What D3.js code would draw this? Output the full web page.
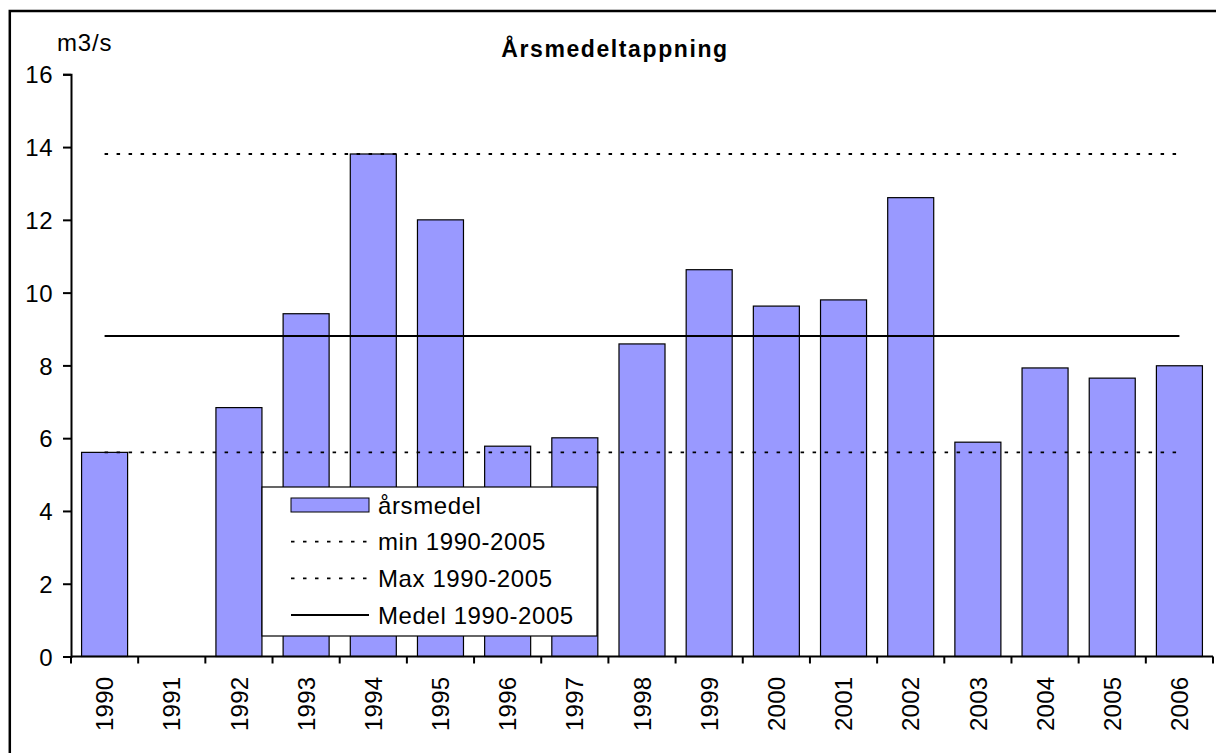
<!DOCTYPE html>
<html>
<head>
<meta charset="utf-8">
<script src="https://cdn.jsdelivr.net/npm/d3@7"></script>
<style>
  body { margin: 0; background: #fff; }
  svg { display: block; font-family: Arial, "Liberation Sans", sans-serif; }
</style>
</head>
<body>
<svg id="chart" width="1216" height="753"></svg>
<script>
// Data
const years = ["1990", "1991", "1992", "1993", "1994", "1995", "1996", "1997", "1998",
  "1999", "2000", "2001", "2002", "2003", "2004", "2005", "2006"];
const arsmedel = [5.61, null, 6.84, 9.42, 13.81, 12.0, 5.78, 6.01, 8.59,
  10.63, 9.63, 9.8, 12.61, 5.89, 7.93, 7.65, 7.99];
const minValue = 5.61;
const maxValue = 13.81;
const medelValue = 8.81;
const yTicks = [0, 2, 4, 6, 8, 10, 12, 14, 16];
const legendLabels = ["årsmedel", "min 1990-2005", "Max 1990-2005", "Medel 1990-2005"];

const dimensions = {
  width: 1216,
  height: 753,
  margin: { top: 74.3, right: 3, bottom: 96, left: 71 },
};
dimensions.boundedWidth = 1142;
dimensions.boundedHeight = 582.2;

const fontSize = "24px";
const svg = d3.select("#chart");

// outer chart frame (cut off at right/bottom like the reference)
svg.append("rect")
  .attr("x", 9.8)
  .attr("y", 11)
  .attr("width", 1300)
  .attr("height", 900)
  .attr("fill", "none")
  .attr("stroke", "#000")
  .attr("stroke-width", 2.5);

const bound = svg.append("g")
  .attr("transform", `translate(${dimensions.margin.left},${dimensions.margin.top})`);

// Scales
const xScale = d3.scaleBand()
  .domain(years)
  .range([0, dimensions.boundedWidth])
  .paddingInner(0.315)
  .paddingOuter(0.1575);
const yScale = d3.scaleLinear()
  .domain([0, 16])
  .range([dimensions.boundedHeight, 0]);

const xCenter = (d) => xScale(d) + xScale.bandwidth() / 2;

// Bars
bound.append("g")
  .selectAll("rect")
  .data(years.map((y, i) => ({ year: y, value: arsmedel[i] })).filter((d) => d.value !== null))
  .join("rect")
  .attr("x", (d) => xScale(d.year))
  .attr("y", (d) => yScale(d.value))
  .attr("width", xScale.bandwidth())
  .attr("height", (d) => yScale(0) - yScale(d.value))
  .attr("fill", "#9999ff")
  .attr("stroke", "#000")
  .attr("stroke-width", 1.2);

// Reference lines
const dotted = { dash: "3.5,8.5", width: 1.8 };
const refLines = [
  { value: minValue, dash: dotted.dash, width: dotted.width },
  { value: maxValue, dash: dotted.dash, width: dotted.width },
  { value: medelValue, dash: null, width: 2 },
];
bound.append("g")
  .selectAll("line")
  .data(refLines)
  .join("line")
  .attr("x1", xCenter(years[0]))
  .attr("x2", xCenter(years[years.length - 1]))
  .attr("y1", (d) => yScale(d.value))
  .attr("y2", (d) => yScale(d.value))
  .attr("stroke", "#000")
  .attr("stroke-width", (d) => d.width)
  .attr("stroke-dasharray", (d) => d.dash);

// Axes
const yAxis = d3.axisLeft(yScale)
  .tickValues(yTicks)
  .tickFormat(d3.format("d"))
  .tickSizeOuter(0)
  .tickSize(8)
  .tickPadding(10);
bound.append("g")
  .call(yAxis)
  .call((g) => g.select(".domain").attr("stroke-width", 2))
  .call((g) => g.selectAll(".tick line").attr("stroke-width", 2))
  .call((g) => g.selectAll(".tick text")
    .style("font-size", fontSize)
    .style("letter-spacing", "0.5px")
    .attr("fill", "#000")
    .attr("dy", "0.36em"));

// x ticks sit on band boundaries (Excel style)
const xAxisG = bound.append("g")
  .attr("transform", `translate(0,${dimensions.boundedHeight})`);
xAxisG.append("line")
  .attr("x1", 0)
  .attr("x2", dimensions.boundedWidth)
  .attr("stroke", "#000")
  .attr("stroke-width", 2);
const boundaries = d3.range(years.length + 1).map((i) => i * xScale.step());
xAxisG.selectAll(".xtick")
  .data(boundaries)
  .join("line")
  .attr("class", "xtick")
  .attr("x1", (d) => d)
  .attr("x2", (d) => d)
  .attr("y1", 0)
  .attr("y2", 7)
  .attr("stroke", "#000")
  .attr("stroke-width", 2);
xAxisG.selectAll(".xlabel")
  .data(years)
  .join("text")
  .attr("class", "xlabel")
  .attr("transform", (d) => `translate(${xCenter(d)},20) rotate(-90)`)
  .attr("text-anchor", "end")
  .attr("dy", "0.36em")
  .style("font-size", fontSize)
  .style("letter-spacing", "0.3px")
  .text((d) => d);

// Unit label and title
svg.append("text")
  .attr("x", 57)
  .attr("y", 51)
  .style("font-size", fontSize)
  .style("letter-spacing", "0.8px")
  .text("m3/s");
svg.append("text")
  .attr("x", 615)
  .attr("y", 57)
  .attr("text-anchor", "middle")
  .style("font-size", "23px")
  .style("font-weight", "bold")
  .style("letter-spacing", "1.6px")
  .text("Årsmedeltappning");

// Legend
const legend = svg.append("g").attr("transform", "translate(262,487)");
legend.append("rect")
  .attr("width", 335)
  .attr("height", 149)
  .attr("fill", "#fff")
  .attr("stroke", "#000")
  .attr("stroke-width", 1.2);
const rowY = (i) => 18 + i * 36.7;
const items = legend.selectAll(".item")
  .data(legendLabels)
  .join("g")
  .attr("class", "item")
  .attr("transform", (d, i) => `translate(0,${rowY(i)})`);
items.filter((d, i) => i === 0)
  .append("rect")
  .attr("x", 29)
  .attr("y", -7)
  .attr("width", 78)
  .attr("height", 14)
  .attr("fill", "#9999ff")
  .attr("stroke", "#000")
  .attr("stroke-width", 1);
items.filter((d, i) => i > 0)
  .append("line")
  .attr("x1", 29)
  .attr("x2", 107)
  .attr("stroke", "#000")
  .attr("stroke-width", (d, i) => (i === 2 ? 2 : dotted.width))
  .attr("stroke-dasharray", (d, i) => (i === 2 ? null : dotted.dash));
items.append("text")
  .attr("x", 116)
  .attr("dy", "0.36em")
  .style("font-size", fontSize)
  .style("letter-spacing", "0.6px")
  .text((d) => d);
</script>
</body>
</html>
